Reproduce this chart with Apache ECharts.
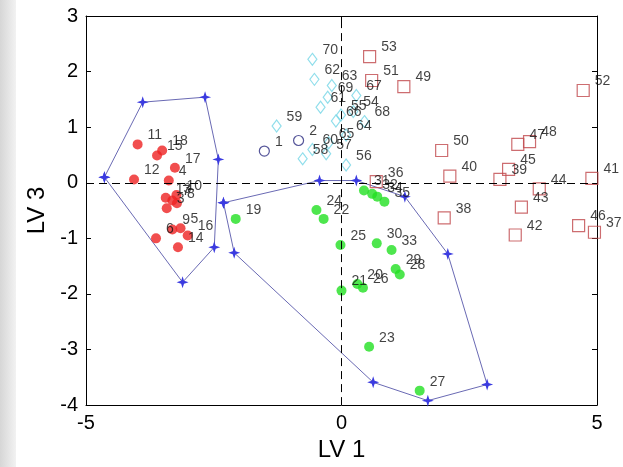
<!DOCTYPE html>
<html>
<head>
<meta charset="utf-8">
<script src="https://cdn.jsdelivr.net/npm/echarts@6/dist/echarts.min.js"></script>
<style>
  html, body { margin: 0; padding: 0; background: #fff; }
  #chart { width: 623px; height: 467px; }
</style>
</head>
<body>
<div id="chart"></div>
<script>
// Axis ticks
const xTicks = [-5, 0, 5];
const yTicks = [-4, -3, -2, -1, 0, 1, 2, 3];

// Score points: [LV1, LV3, sample id]
const circleGroup = [
  [-1.51, 0.57, '1'], [-0.84, 0.76, '2']
];
const redGroup = [
  [-3.99, 0.69, '11'], [-3.61, 0.49, '15'], [-3.51, 0.58, '18'], [-3.26, 0.27, '17'],
  [-4.06, 0.06, '12'], [-3.38, 0.04, '4'], [-3.44, -0.27, '13'], [-3.23, -0.22, '10'],
  [-3.42, -0.46, '3'], [-3.22, -0.37, '8'], [-3.31, -0.32, '7'], [-3.31, -0.84, '9'],
  [-3.15, -0.82, '5'], [-3.01, -0.95, '16'], [-3.20, -1.16, '14'], [-3.63, -1.00, '6']
];
const greenGroup = [
  [-2.07, -0.65, '19'], [0.31, -1.82, '20'], [0.00, -1.94, '21'], [-0.35, -0.65, '22'],
  [0.54, -2.95, '23'], [-0.49, -0.49, '24'], [-0.02, -1.12, '25'], [0.42, -1.89, '26'],
  [1.53, -3.74, '27'], [1.14, -1.65, '28'], [1.06, -1.55, '29'], [0.69, -1.09, '30'],
  [0.44, -0.14, '31'], [0.60, -0.20, '32'], [0.98, -1.21, '33'], [0.70, -0.25, '34'],
  [0.84, -0.34, '35']
];
const squareGroup = [
  [0.68, 0.02, '36'], [4.95, -0.89, '37'], [2.01, -0.63, '38'], [3.10, 0.06, '39'],
  [2.12, 0.12, '40'], [4.90, 0.08, '41'], [3.40, -0.94, '42'], [3.52, -0.44, '43'],
  [3.87, -0.11, '44'], [3.27, 0.24, '45'], [4.64, -0.77, '46'], [3.45, 0.69, '47'],
  [3.68, 0.74, '48'], [1.22, 1.73, '49'], [1.96, 0.58, '50'], [0.59, 1.84, '51'],
  [4.73, 1.66, '52'], [0.55, 2.27, '53']
];
const diamondGroup = [
  [0.23, 1.28, '54'], [-0.01, 1.22, '55'], [0.09, 0.32, '56'], [-0.30, 0.52, '57'],
  [-0.76, 0.43, '58'], [-1.27, 1.02, '59'], [-0.57, 0.60, '60'], [-0.41, 1.36, '61'],
  [-0.53, 1.86, '62'], [-0.19, 1.75, '63'], [0.09, 0.86, '64'], [-0.25, 0.72, '65'],
  [-0.11, 1.11, '66'], [0.29, 1.57, '67'], [0.45, 1.10, '68'], [-0.27, 1.54, '69'],
  [-0.57, 2.22, '70']
];

// Hull vertices around the two main clusters
const hullA = [
  [-4.64, 0.10], [-3.89, 1.45], [-2.67, 1.54], [-2.41, 0.42], [-2.49, -1.16], [-3.11, -1.79]
];
const hullB = [
  [-2.31, -0.36], [-0.43, 0.04], [0.29, 0.04], [1.24, -0.25], [2.08, -1.28],
  [2.85, -3.63], [1.69, -3.92], [0.62, -3.59], [-2.10, -1.26]
];

const FONT = 'Liberation Sans, Arial, sans-serif';
const star = 'path://M0,-10 L2.4,-2.4 L10,0 L2.4,2.4 L0,10 L-2.4,2.4 L-10,0 L-2.4,-2.4 Z';

const pointLabel = {
  show: true,
  position: 'right',
  distance: 5,
  offset: [0, -9],
  formatter: p => p.data[2],
  color: '#111',
  fontSize: 14,
  fontFamily: FONT
};

function scatter(data, symbol, size, itemStyle) {
  return {
    type: 'scatter',
    data: data,
    symbol: symbol,
    symbolSize: size,
    itemStyle: itemStyle,
    label: pointLabel,
    z: 4
  };
}

function hull(points) {
  return {
    type: 'line',
    data: points.concat([points[0]]),
    symbol: star,
    symbolSize: 12,
    showAllSymbol: true,
    itemStyle: { color: '#3b3be0' },
    lineStyle: { color: '#6a6ab4', width: 1 },
    z: 3
  };
}

const box = { show: true, onZero: false, lineStyle: { color: '#000', width: 1 } };
const tickIn = { show: true, inside: true, length: 5, lineStyle: { color: '#000' } };

const chart = echarts.init(document.getElementById('chart'), null, { renderer: 'canvas' });
chart.setOption({
  animation: false,
  backgroundColor: '#fff',
  graphic: [{
    type: 'rect',
    left: 0, top: 0,
    shape: { width: 16, height: 467 },
    style: {
      fill: new echarts.graphic.LinearGradient(0, 0, 1, 0, [
        { offset: 0, color: '#d6d6d6' }, { offset: 1, color: '#f2f2f2' }
      ])
    },
    silent: true
  }],
  grid: { left: 86, right: 26, top: 16, bottom: 60 },
  xAxis: [{
    type: 'value',
    min: xTicks[0], max: xTicks[xTicks.length - 1], interval: 5,
    axisLine: box, axisTick: tickIn, splitLine: { show: false },
    axisLabel: { color: '#000', fontSize: 20, fontFamily: FONT, margin: 8 },
    name: 'LV 1', nameLocation: 'middle', nameGap: 27,
    nameTextStyle: { color: '#000', fontSize: 24, fontFamily: FONT }
  }, {
    type: 'value', position: 'top',
    min: xTicks[0], max: xTicks[xTicks.length - 1], interval: 5,
    axisLine: box, axisTick: tickIn, axisLabel: { show: false }, splitLine: { show: false }
  }],
  yAxis: [{
    type: 'value',
    min: yTicks[0], max: yTicks[yTicks.length - 1], interval: 1,
    axisLine: box, axisTick: tickIn, splitLine: { show: false },
    axisLabel: { color: '#000', fontSize: 20, fontFamily: FONT, margin: 8 },
    name: 'LV 3', nameLocation: 'middle', nameGap: 29,
    nameTextStyle: { color: '#000', fontSize: 24, fontFamily: FONT }
  }, {
    type: 'value', position: 'right',
    min: yTicks[0], max: yTicks[yTicks.length - 1], interval: 1,
    axisLine: box, axisTick: tickIn, axisLabel: { show: false }, splitLine: { show: false }
  }],
  series: [
    {
      type: 'scatter', data: [], silent: true,
      markLine: {
        silent: true, symbol: 'none', animation: false,
        label: { show: false },
        lineStyle: { color: '#000', type: [8, 5], width: 1 },
        data: [{ xAxis: 0 }, { yAxis: 0 }]
      },
      z: 2
    },
    hull(hullA),
    hull(hullB),
    scatter(redGroup, 'circle', 10, { color: '#ee2222' }),
    scatter(greenGroup, 'circle', 10, { color: '#22e022' }),
    scatter(squareGroup, 'rect', 12, { color: 'rgba(255,255,255,0)', borderColor: '#c0484c', borderWidth: 1.2 }),
    scatter(diamondGroup, 'diamond', [9, 12], { color: 'rgba(255,255,255,0)', borderColor: '#74d6e6', borderWidth: 1.2 }),
    scatter(circleGroup, 'circle', 10, { color: 'rgba(255,255,255,0)', borderColor: '#2a2a80', borderWidth: 1.2 })
  ]
});
</script>
</body>
</html>
